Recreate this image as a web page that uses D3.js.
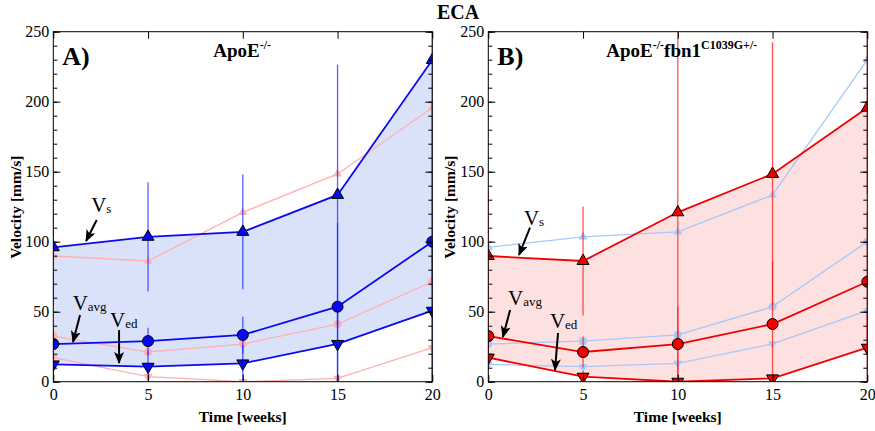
<!DOCTYPE html>
<html>
<head>
<meta charset="utf-8">
<script src="https://cdn.jsdelivr.net/npm/d3@7"></script>
<style>
  body { margin: 0; background: #fff; }
  svg text { font-family: "Liberation Serif", "Times New Roman", serif !important; }
</style>
</head>
<body>
<div id="chart"></div>
<script>
// weeks
var weeks = [0, 5, 10, 15, 20];

// ApoE-/- (blue)
var apoVs   = [96, 103.5, 107, 133.4, 229.8];
var apoVavg = [26.9, 29, 33.4, 53.6, 100];
var apoVed  = [12.4, 10.7, 13.1, 27, 50.7];
var apoVsErr   = [41, 39, 41, 93, 160];
var apoVavgErr = [10, 9.5, 13, 60, 100];
var apoVedErr  = [8, 11, 13, 27, 51];

// ApoE-/-fbn1C1039G+/- (red)
var fbnVs   = [89.8, 86.2, 121, 148.4, 195.7];
var fbnVavg = [32.6, 21.2, 26.9, 41.2, 71.4];
var fbnVed  = [17.2, 3.6, 0, 2.4, 24.3];
var fbnVsErr   = [46, 39, 140, 94, 62];
var fbnVavgErr = [12, 11, 27, 45, 50];
var fbnVedErr  = [10, 4, 5, 3, 24];

var yTicks = [0, 50, 100, 150, 200, 250];
var xTicks = [0, 5, 10, 15, 20];

var svgWidth = 875, svgHeight = 431;
var svg = d3.select("#chart").append("svg")
    .attr("width", svgWidth)
    .attr("height", svgHeight);

var defs = svg.append("defs");
defs.append("marker")
    .attr("id", "arrow")
    .attr("viewBox", "0 0 12 10")
    .attr("refX", 11).attr("refY", 5)
    .attr("markerWidth", 12).attr("markerHeight", 10)
    .attr("markerUnits", "userSpaceOnUse")
    .attr("orient", "auto")
    .append("path").attr("d", "M0,0 L12,5 L0,10 L3,5 Z").attr("fill", "#000");

svg.append("text")
    .attr("x", 437).attr("y", 19)
    .attr("font-size", 20).attr("font-weight", "bold")
    .text("ECA");

var plotW = 379, plotH = 350;

function makeSeries(vs, vavg, ved, vsErr, vavgErr, vedErr) {
  return { vs: vs, vavg: vavg, ved: ved, err: [vsErr, vavgErr, vedErr] };
}
var blue = makeSeries(apoVs, apoVavg, apoVed, apoVsErr, apoVavgErr, apoVedErr);
var red = makeSeries(fbnVs, fbnVavg, fbnVed, fbnVsErr, fbnVavgErr, fbnVedErr);

function drawPanel(opt) {
  var g = svg.append("g").attr("transform", `translate(${opt.left}, 31.7)`);
  var x = d3.scaleLinear().domain([0, 20]).range([0, plotW]);
  var y = d3.scaleLinear().domain([0, 250]).range([plotH, 0]);

  g.append("clipPath").attr("id", "clip" + opt.id)
    .append("rect").attr("width", plotW).attr("height", plotH);
  var p = g.append("g").attr("clip-path", `url(#clip${opt.id})`);

  var main = opt.main, other = opt.other;

  // shaded band between Vs and Ved
  var area = d3.area()
      .x(function(d, i) { return x(weeks[i]); })
      .y0(function(d, i) { return y(main.ved[i]); })
      .y1(function(d) { return y(d); });
  p.append("path").datum(main.vs).attr("d", area).attr("fill", opt.fill);

  var line = d3.line()
      .x(function(d, i) { return x(weeks[i]); })
      .y(function(d) { return y(d); });

  // faint overlay of the other group
  [other.vs, other.vavg, other.ved].forEach(function(s, k) {
    p.append("path").datum(s).attr("d", line)
      .attr("fill", "none").attr("stroke", opt.light).attr("stroke-width", 1.3);
    drawMarkers(p, s, k, x, y, opt.light, "none", 0.75);
  });

  // error bars
  [main.vs, main.vavg, main.ved].forEach(function(s, k) {
    p.selectAll(null).data(s).enter().append("line")
      .attr("x1", function(d, i) { return x(weeks[i]); })
      .attr("x2", function(d, i) { return x(weeks[i]); })
      .attr("y1", function(d, i) { return y(d + main.err[k][i]); })
      .attr("y2", function(d, i) { return y(d - main.err[k][i]); })
      .attr("stroke", opt.errColor).attr("stroke-width", 1.3)
      .attr("stroke-opacity", 0.75);
  });

  [main.vs, main.vavg, main.ved].forEach(function(s, k) {
    p.append("path").datum(s).attr("d", line)
      .attr("fill", "none").attr("stroke", opt.color).attr("stroke-width", 1.8);
    drawMarkers(p, s, k, x, y, opt.color, "#000", 1);
  });

  // frame
  g.append("rect").attr("width", plotW).attr("height", plotH)
    .attr("fill", "none").attr("stroke", "#000").attr("stroke-width", 1);

  var yMinor = d3.range(0, 251, 10);
  function styleAxis(a) {
    a.attr("font-family", null);
    a.select(".domain").remove();
    a.selectAll("line").attr("stroke", "#000");
    a.selectAll("text").attr("font-size", 16).attr("fill", "#000");
  }
  g.append("g").call(d3.axisLeft(y).tickValues(yMinor).tickSize(-4).tickFormat("")).call(styleAxis);
  g.append("g").call(d3.axisLeft(y).tickValues(yTicks).tickSize(-7).tickPadding(4)).call(styleAxis);
  g.append("g").attr("transform", `translate(${plotW},0)`)
    .call(d3.axisRight(y).tickValues(yMinor).tickSize(-4).tickFormat("")).call(styleAxis);
  g.append("g").attr("transform", `translate(${plotW},0)`)
    .call(d3.axisRight(y).tickValues(yTicks).tickSize(-7).tickFormat("")).call(styleAxis);
  g.append("g").attr("transform", `translate(0,${plotH})`)
    .call(d3.axisBottom(x).tickValues(xTicks).tickSize(-7).tickPadding(7)).call(styleAxis);
  g.append("g")
    .call(d3.axisTop(x).tickValues(xTicks).tickSize(-7).tickFormat("")).call(styleAxis);

  // axis titles
  g.append("text")
    .attr("transform", `translate(${opt.yTitleX},${plotH / 2 + 0.5}) rotate(-90)`)
    .attr("text-anchor", "middle").attr("font-size", 15.5).attr("font-weight", "bold")
    .text("Velocity [mm/s]");
  g.append("text")
    .attr("x", plotW / 2).attr("y", plotH + 40)
    .attr("text-anchor", "middle").attr("font-size", 15.5).attr("font-weight", "bold")
    .text("Time [weeks]");

  // panel letter and title
  g.append("text").attr("x", 9).attr("y", 33)
    .attr("font-size", 26).attr("font-weight", "bold").text(opt.letter);
  var t = g.append("text").attr("x", opt.titleX).attr("y", 25)
    .attr("font-size", 19).attr("font-weight", "bold");
  opt.title.forEach(function(part) {
    var ts = t.append("tspan").text(part.text);
    if (part.sup) ts.attr("font-size", 12).attr("dy", -8);
    else ts.attr("dy", part.first ? 0 : 8);
  });

  // V labels with arrows
  opt.notes.forEach(function(n) {
    var tx = g.append("text").attr("x", x(n.tx)).attr("y", y(n.ty)).attr("font-size", 21);
    tx.append("tspan").text("V");
    tx.append("tspan").text(n.sub).attr("font-size", 13).attr("dy", 1);
    g.append("line")
      .attr("x1", x(n.a[0])).attr("y1", y(n.a[1]))
      .attr("x2", x(n.a[2])).attr("y2", y(n.a[3]))
      .attr("stroke", "#000").attr("stroke-width", 2)
      .attr("marker-end", "url(#arrow)");
  });
}

function drawMarkers(p, s, k, x, y, fill, stroke, scale) {
  var shape = k === 1 ? d3.symbolCircle : d3.symbolTriangle;
  var size = (k === 1 ? 95 : 62) * scale * scale;
  p.selectAll(null).data(s).enter().append("path")
    .attr("d", d3.symbol().type(shape).size(size))
    .attr("transform", function(d, i) {
      return `translate(${x(weeks[i])},${y(d)})` + (k === 2 ? " rotate(180)" : "");
    })
    .attr("fill", fill)
    .attr("stroke", stroke).attr("stroke-width", stroke === "none" ? 0 : 1);
}

drawPanel({
  id: "A", left: 53.3, main: blue, other: red,
  color: "#0a0af0", errColor: "#1a2cff", light: "#ffb0b0", fill: "#dae2fa",
  letter: "A)", titleX: 160,
  title: [{ text: "ApoE", first: true }, { text: "-/-", sup: true }],
  yTitleX: -32,
  notes: [
    { tx: 2.0, ty: 121, sub: "s", a: [2.29, 115.5, 1.73, 100.5] },
    { tx: 1.02, ty: 51.2, sub: "avg", a: [1.41, 47.6, 1.04, 28.4] },
    { tx: 2.99, ty: 39, sub: "ed", a: [3.47, 36.9, 3.47, 13.4] }
  ]
});

drawPanel({
  id: "B", left: 488.3, main: red, other: blue,
  color: "#f00000", errColor: "#ff1a1a", light: "#a8c8f8", fill: "#fde0e0",
  letter: "B)", titleX: 118,
  title: [{ text: "ApoE", first: true }, { text: "-/-", sup: true }, { text: "fbn1" },
          { text: "C1039G+/-", sup: true }],
  yTitleX: -33,
  notes: [
    { tx: 1.88, ty: 112, sub: "s", a: [2.2, 110, 1.62, 90.5] },
    { tx: 1.04, ty: 54.8, sub: "avg", a: [1.15, 51.2, 0.77, 31.9] },
    { tx: 3.25, ty: 38.4, sub: "ed", a: [3.68, 34.8, 3.52, 8.4] }
  ]
});
</script>
</body>
</html>
